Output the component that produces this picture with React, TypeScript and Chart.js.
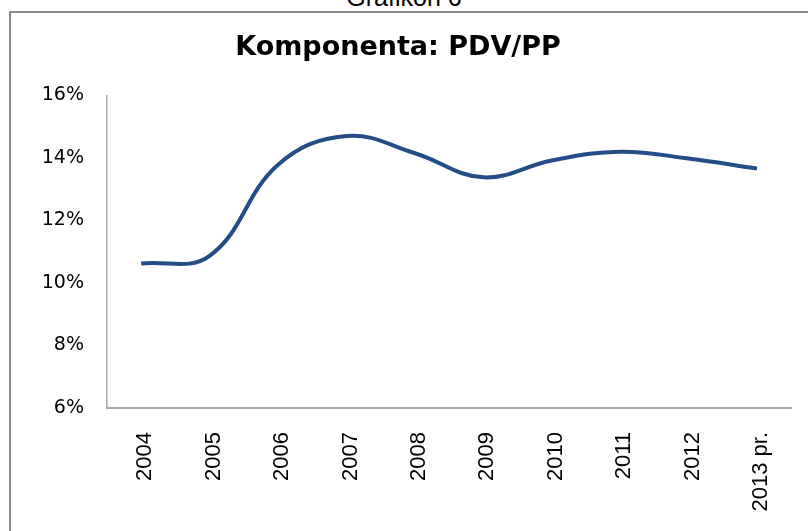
import React, { useEffect, useRef } from "react";
import { Chart, registerables } from "chart.js";

Chart.register(...registerables);

const categories = ["2004", "2005", "2006", "2007", "2008", "2009", "2010", "2011", "2012", "2013 pr."];
const values = [10.62, 10.87, 13.78, 14.7, 14.15, 13.38, 13.92, 14.2, 13.98, 13.66];
const yMin = 6;
const yMax = 16;
const yStep = 2;
const titleText = "Komponenta: PDV/PP";
const captionText = "Grafikon 6";

export default function App() {
  const canvasRef = useRef<HTMLCanvasElement | null>(null);

  useEffect(() => {
    const canvas = canvasRef.current;
    if (!canvas) return;
    const chart = new Chart(canvas, {
      type: "line",
      data: {
        labels: categories,
        datasets: [
          {
            data: values,
            borderColor: "#234d86",
            borderWidth: 4,
            pointRadius: 0,
            tension: 0.4,
            fill: false,
          },
        ],
      },
      options: {
        animation: false,
        responsive: false,
        maintainAspectRatio: false,
        layout: { padding: { left: 0, right: 12, top: 0, bottom: 0 } },
        plugins: {
          legend: { display: false },
          tooltip: { enabled: false },
          title: {
            display: true,
            text: titleText,
            color: "#000",
            font: { family: "DejaVu Sans", size: 27, weight: "bold", lineHeight: 1.2 },
            padding: { top: 32, bottom: 31 },
          },
        },
        scales: {
          x: {
            offset: true,
            grid: { display: false, drawTicks: false, offset: true },
            border: { display: true, color: "#a6a6a6", width: 2 },
            ticks: {
              color: "#000",
              font: { family: "Liberation Sans", size: 22 },
              minRotation: 90,
              maxRotation: 90,
              padding: 24,
              labelOffset: 4,
              autoSkip: false,
            },
            afterFit: (scale: any) => {
              scale.height = 123;
            },
          },
          y: {
            min: yMin,
            max: yMax,
            grid: { display: false, drawTicks: false },
            border: { display: true, color: "#a6a6a6", width: 1.5 },
            ticks: {
              stepSize: yStep,
              color: "#000",
              font: { family: "DejaVu Sans", size: 19 },
              padding: 23,
              callback: (v: any) => `${v}%`,
            },
            afterFit: (scale: any) => {
              scale.width = 107;
            },
          },
        },
      },
    });
    return () => chart.destroy();
  }, []);

  return (
    <div style={{ position: "fixed", left: 0, top: 0, width: 808, height: 531, overflow: "hidden", background: "#fff" }}>
      <div
        style={{
          position: "absolute",
          left: 0,
          width: 808,
          top: -15,
          lineHeight: 1,
          textAlign: "center",
          fontFamily: "Liberation Sans",
          fontSize: 25,
          color: "#000",
        }}
      >
        {captionText}
      </div>
      <div
        style={{
          position: "absolute",
          left: 9,
          top: 11,
          width: 900,
          height: 700,
          border: "2px solid #8a8a8a",
          boxSizing: "border-box",
        }}
      />
      <canvas ref={canvasRef} width={808} height={531} style={{ position: "absolute", left: 0, top: 0 }} />
    </div>
  );
}
